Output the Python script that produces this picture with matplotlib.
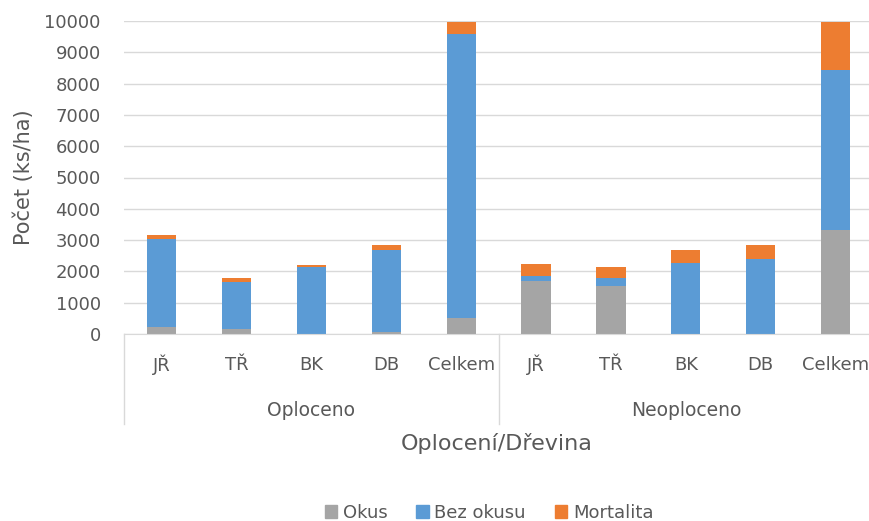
import numpy as np
import matplotlib
matplotlib.use('Agg')
import matplotlib.pyplot as plt
from matplotlib.patches import Patch

plt.rcParams['font.family'] = ['DejaVu Sans']

# data (ks/ha)
groups = ['Oploceno', 'Neoploceno']
species = ['JŘ', 'TŘ', 'BK', 'DB', 'Celkem']
okus = [220, 170, 0, 70, 510, 1690, 1545, 0, 0, 3320]
bez_okusu = [2810, 1480, 2140, 2625, 9085, 175, 255, 2280, 2385, 5125]
mortalita = [120, 150, 65, 150, 385, 385, 340, 415, 460, 1535]

c_gray = '#A5A5A5'
c_blue = '#5B9BD5'
c_orange = '#ED7D31'
txt = '#595959'
grid_c = '#D9D9D9'

W, H = 870, 521
fig = plt.figure(figsize=(W / 100, H / 100), dpi=100)
left, right, top, bot = 124.3, 873.0, 21.0, 334.0
ax = fig.add_axes([left / W, 1 - bot / H, (right - left) / W, (bot - top) / H])

x = np.arange(len(okus))
okus = np.array(okus)
bez_okusu = np.array(bez_okusu)
mortalita = np.array(mortalita)
bw = 0.39
ax.bar(x, okus, bw, color=c_gray, label='Okus', zorder=3)
ax.bar(x, bez_okusu, bw, bottom=okus, color=c_blue, label='Bez okusu', zorder=3)
ax.bar(x, mortalita, bw, bottom=okus + bez_okusu, color=c_orange, label='Mortalita', zorder=3)

ax.set_xlim(-0.5, len(okus) - 0.5)
ax.set_ylim(0, 10000)
ax.set_yticks(np.arange(0, 10001, 1000))
ax.yaxis.grid(True, color=grid_c, linewidth=1.0, zorder=0)
ax.tick_params(axis='y', length=0, pad=17, labelsize=13, labelcolor=txt)
ax.set_xticks([])
for s in ['top', 'right', 'left']:
    ax.spines[s].set_visible(False)
ax.spines['bottom'].set_color(grid_c)
ax.spines['bottom'].set_zorder(4)

trans = ax.get_xaxis_transform()
# category labels
for i in x:
    ax.text(i, -(365 - bot) / (bot - top), species[i % 5], transform=trans,
            ha='center', va='center', fontsize=13, color=txt)
# group labels
for g, name in enumerate(groups):
    ax.text(2 + 5 * g, -(410 - bot) / (bot - top), name, transform=trans,
            ha='center', va='center', fontsize=13.5, color=txt)
# separators
for xs in [-0.5, 4.5, 9.5]:
    ax.plot([xs, xs], [0, -(424 - bot) / (bot - top)], transform=trans,
            color=grid_c, linewidth=1.0, clip_on=False)

ax.set_ylabel('Počet (ks/ha)', fontsize=15, color=txt)
ax.yaxis.set_label_coords(-(left - 34) / (right - left), 0.5)
fig.text(497 / W, 1 - 444 / H, 'Oplocení/Dřevina', ha='center', va='center',
         fontsize=16, color=txt)

handles = [Patch(color=c_gray, label='Okus'),
           Patch(color=c_blue, label='Bez okusu'),
           Patch(color=c_orange, label='Mortalita')]
fig.legend(handles=handles, loc='center', bbox_to_anchor=(489 / W, 1 - 513 / H),
           ncol=3, frameon=False, fontsize=13, handlelength=0.7, handleheight=0.7,
           handletextpad=0.3, columnspacing=1.6, labelcolor=txt)

fig.savefig('out.png', dpi=100)
